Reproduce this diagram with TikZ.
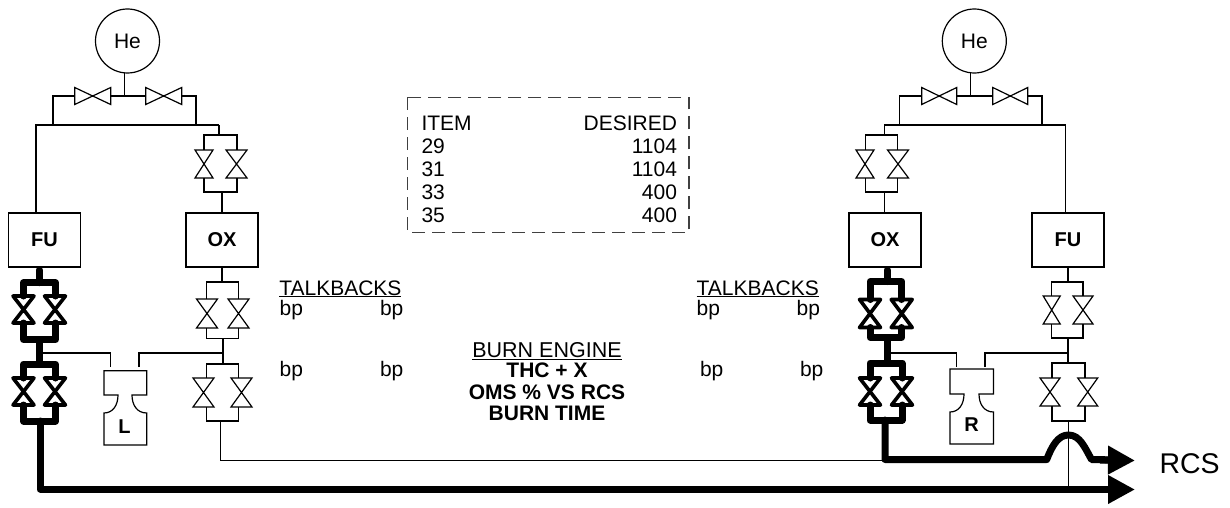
\documentclass[tikz,border=0pt]{standalone}
\usepackage{fontspec}
\setmainfont{Liberation Sans}
\usetikzlibrary{arrows.meta}
\newcommand\fs[1]{\fontsize{#1}{#1}\selectfont}
\tikzset{
  x=1pt,y=-1pt,
  pipe/.style={line width=1.2pt,black,line cap=butt,line join=miter},
  vthick/.style={line width=3.6pt,line join=round,line cap=round},
  hvy/.style={line width=7pt,line join=round,line cap=round},
  flow/.style={line width=7pt,line join=round,-{Triangle[length=27pt,width=27pt]}},
  bowv/.style={inner sep=0pt,outer sep=0pt,append after command={(\tikzlastnode.north west)--(\tikzlastnode.north east)--(\tikzlastnode.south west)--(\tikzlastnode.south east)--cycle}},
  bowh/.style={inner sep=0pt,outer sep=0pt,append after command={(\tikzlastnode.north west)--(\tikzlastnode.south east)--(\tikzlastnode.north east)--(\tikzlastnode.south west)--cycle}},
  tank/.style={draw,pipe,rectangle,inner sep=0pt,outer sep=0pt,minimum width=72pt,minimum height=54pt,font=\fs{20}\bfseries},
  he/.style={draw,pipe,circle,inner sep=0pt,outer sep=0pt,minimum size=64pt,font=\fs{21}},
  txt/.style={inner sep=0pt,outer sep=0pt,anchor=base west,font=\fs{21}},
  txtr/.style={inner sep=0pt,outer sep=0pt,anchor=base east,font=\fs{21}},
  txtl/.style={inner sep=0pt,outer sep=0pt,anchor=base west,font=\fs{21}},
  ctr/.style={inner sep=0pt,outer sep=0pt,anchor=base,font=\fs{21}\bfseries},
  dbox/.style={draw=black!75,line width=1.2pt,dash pattern=on 13pt off 7pt},
}
\newcommand\vv[6][pipe]{\draw[#1] (#3,#4) node[bowv,minimum width=#5pt,minimum height=#6pt] (#2) {};}
\newcommand\hv[6][pipe]{\draw[#1] (#3,#4) node[bowh,minimum width=#5pt,minimum height=#6pt] (#2) {};}
\newcommand\lp[7][pipe]{%
  \coordinate (#2T) at (#4,#6); \coordinate (#3T) at (#5,#6);
  \coordinate (#2B) at (#4,#7); \coordinate (#3B) at (#5,#7);
  \draw[#1] (#2.north -| #2T) -- (#2T) -- (#3T) -- (#3.north -| #3T);
  \draw[#1] (#2.south -| #2B) -- (#2B) -- (#3B) -- (#3.south -| #3B);}
\begin{document}
\begin{tikzpicture}
\useasboundingbox (0,0) rectangle (1230,508);
% ---- tanks
\node[he] (heL) at (127.5,41) {He};
\node[he] (heR) at (974.3,41) {He};
\node[tank] (fuL) at (44.5,240) {FU};
\node[tank] (oxL) at (222,240) {OX};
\node[tank] (oxR) at (885,240) {OX};
\node[tank] (fuR) at (1068,240) {FU};
% ---- left helium
\hv{hL1}{92.7}{96}{36}{17}
\hv{hL2}{163.7}{96}{36}{17}
\coordinate (jL) at (124.5,96);
\coordinate (mLa) at (36,125); \coordinate (mLb) at (219,125);
\coordinate (mLc) at (53,125); \coordinate (mLd) at (196,125);
\draw[pipe] (jL) -- (heL.south -| jL);
\draw[pipe] (hL1.east) -- (hL2.west);
\draw[pipe] (hL1.west) -| (mLc);
\draw[pipe] (hL2.east) -| (mLd);
\draw[pipe] (fuL.north -| mLa) -- (mLa) -- (mLb);
\vv{vL1}{204}{164}{18}{28}
\vv{vL2}{236.5}{164}{21}{28}
\lp{vL1}{vL2}{204}{237}{135}{192}
\draw[pipe] (mLb) -- (mLb |- vL1T);
\draw[pipe] (oxL.north) -- (oxL.north |- vL1B);
% ---- right helium
\hv{hR1}{939.2}{96}{35}{17}
\hv{hR2}{1010.3}{96}{35}{17}
\coordinate (jR) at (970.7,96);
\coordinate (mRa) at (884.3,125); \coordinate (mRb) at (1065.3,125);
\coordinate (mRc) at (899.7,125); \coordinate (mRd) at (1042,125);
\draw[pipe] (jR) -- (heR.south -| jR);
\draw[pipe] (hR1.east) -- (hR2.west);
\draw[pipe] (hR1.west) -| (mRc);
\draw[pipe] (hR2.east) -| (mRd);
\draw[pipe] (fuR.north -| mRb) -- (mRb) -- (mRa);
\vv{vR1}{865}{164}{18}{28}
\vv{vR2}{898}{164}{21}{28}
\lp{vR1}{vR2}{865.7}{897.7}{135}{192}
\draw[pipe] (mRa) -- (mRa |- vR1T);
\draw[pipe] (oxR.north -| mRa) -- (mRa |- vR1B);
% ---- left OX lower
\vv{aO1}{207}{313.5}{21}{29}
\vv{aO2}{238.5}{313.5}{21}{29}
\lp{aO1}{aO2}{206.5}{238.5}{282}{338.5}
\vv{bO1}{203.5}{392.5}{21}{29}
\vv{bO2}{241.5}{392.5}{21}{29}
\lp{bO1}{bO2}{206.5}{238.5}{364}{421}
\coordinate (jO) at (223,353);
\draw[pipe] (oxL.south) -- (oxL.south |- aO1T);
\draw[pipe] (jO |- aO1B) -- (jO |- bO1T);
% ---- nozzle L
\draw[pipe] (104,370.7) -- (146.7,370.7) -- (146.7,395) -- (132,395)
  .. controls (132,405) and (137,413) .. (146.7,413) -- (146.7,445) -- (104,445) -- (104,413)
  .. controls (113,413) and (118,405) .. (118,395) -- (104,395) -- cycle;
\node[inner sep=0pt,font=\fs{20}\bfseries] (nL) at (124.5,427) {L};
\coordinate (nLa) at (110.7,367); \coordinate (nLb) at (139,367);
\coordinate (thL) at (39,353);
\draw[pipe] (thL) -| (nLa);
\draw[pipe] (nLb) |- (jO);
% ---- right FU lower
\vv{aF1}{1051.7}{310}{17}{28}
\vv{aF2}{1083}{310}{20}{28}
\lp{aF1}{aF2}{1051.7}{1083}{282}{338}
\vv{bF1}{1050}{392}{20}{28}
\vv{bF2}{1087.7}{392}{20}{28}
\lp{bF1}{bF2}{1052}{1085}{363}{421}
\coordinate (jF) at (1068,353);
\draw[pipe] (fuR.south) -- (fuR.south |- aF1T);
\draw[pipe] (jF |- aF1B) -- (jF |- bF1T);
% ---- nozzle R
\draw[pipe] (950,369) -- (993.5,369) -- (993.5,394) -- (979,394)
  .. controls (979,404) and (984,412) .. (993.5,412) -- (993.5,444) -- (950,444) -- (950,412)
  .. controls (959,412) and (964,404) .. (964,394) -- (950,394) -- cycle;
\node[inner sep=0pt,font=\fs{20}\bfseries] (nR) at (971.5,425) {R};
\coordinate (nRa) at (956.7,367); \coordinate (nRb) at (985,367);
\coordinate (thR) at (887,353);
\draw[pipe] (thR) -| (nRa);
\draw[pipe] (nRb) |- (jF);
% ---- thin return lines
\coordinate (retA) at (220.5,421);
\coordinate (retB) at (220.5,460.5);
\coordinate (retC) at (885,460.5);
\draw[pipe] (retA) -- (retB) -- (retC);
\coordinate (xA) at (1068.7,421);
\coordinate (xB) at (1068.7,487);
\draw[pipe] (xA) -- (xB);
% ---- left FU heavy
\vv[vthick]{tL1}{23.5}{309.5}{21}{27}
\vv[vthick]{tL2}{55}{309.5}{21}{27}
\lp[hvy]{tL1}{tL2}{23.5}{55.5}{282.7}{339.5}
\vv[vthick]{uL1}{23.5}{391.5}{21}{27}
\vv[vthick]{uL2}{55}{391.5}{21}{27}
\lp[hvy]{uL1}{uL2}{23.5}{55.5}{364}{421}
\draw[hvy] (fuL.south -| thL) ++(0,3) -- (thL |- tL1T);
\draw[hvy] (thL |- tL1B) -- (thL |- uL1T);
% ---- right OX heavy
\vv[vthick]{tR1}{870}{313.5}{21}{28}
\vv[vthick]{tR2}{901.7}{313.5}{21}{28}
\lp[hvy]{tR1}{tR2}{870}{901.7}{281.5}{337.5}
\vv[vthick]{uR1}{870}{391.5}{21}{27}
\vv[vthick]{uR2}{902}{391.5}{21}{27}
\lp[hvy]{uR1}{uR2}{870}{902}{363}{420}
\draw[hvy] (oxR.south -| thR) ++(0,3) -- (thR |- tR1T);
\draw[hvy] (thR |- tR1B) -- (thR |- uR1T);
% ---- heavy outlets
\coordinate (tipA) at (1135,460.5);
\coordinate (tipB) at (1135,489.5);
\coordinate (outA) at (885,420);
\coordinate (outB) at (40,421);
\draw[hvy] (outA) -- (885,459.5) -- (1046.7,459.5)
  .. controls (1052,446) and (1058,435) .. (1068.5,435)
  .. controls (1080,435) and (1085,448) .. (1091.5,459.5) -- (1108,459.8);
\draw[flow] (1100,460) -- (tipA);
\draw[hvy] (outB) -- (40,489) -- (1110,489);
\draw[flow] (1100,489.5) -- (tipB);
\node[inner sep=0pt,outer sep=0pt,anchor=base west,font=\fs{28.5}] (rcs) at (1159.5,473) {RCS};
% ---- table
\draw[dbox] (407.7,97.3) rectangle (689,232.7);
\node[txtl] (t0) at (421.5,130) {ITEM};
\node[txtr] (d0) at (677,130) {DESIRED};
\node[txtl] (t1) at (421.5,153.7) {29};
\node[txtr] (d1) at (677,153.7) {1104};
\node[txtl] (t2) at (421.5,176.7) {31};
\node[txtr] (d2) at (677,176.7) {1104};
\node[txtl] (t3) at (421.5,199.7) {33};
\node[txtr] (d3) at (677,199.7) {400};
\node[txtl] (t4) at (421.5,222.7) {35};
\node[txtr] (d4) at (677,222.7) {400};
% ---- talkbacks
\node[txt] (tbL) at (279.3,295) {\underline{TALKBACKS}};
\node[txt] (b1) at (279.7,315.7) {bp};
\node[txt] (b2) at (380,315.7) {bp};
\node[txt] (b3) at (279.7,376.7) {bp};
\node[txt] (b4) at (380,376.7) {bp};
\node[txt] (tbR) at (696.7,295) {\underline{TALKBACKS}};
\node[txt] (b5) at (696.7,315.7) {bp};
\node[txt] (b6) at (796.7,315.7) {bp};
\node[txt] (b7) at (700,376.7) {bp};
\node[txt] (b8) at (800,376.7) {bp};
% ---- burn
\node[ctr,font=\fs{21.5}] (c0) at (547,357.3) {\underline{BURN ENGINE}};
\node[ctr] (c1) at (547,377.7) {THC + X};
\node[ctr] (c2) at (547,399) {OMS \% VS RCS};
\node[ctr] (c3) at (547,420.7) {BURN TIME};
\end{tikzpicture}
\end{document}
